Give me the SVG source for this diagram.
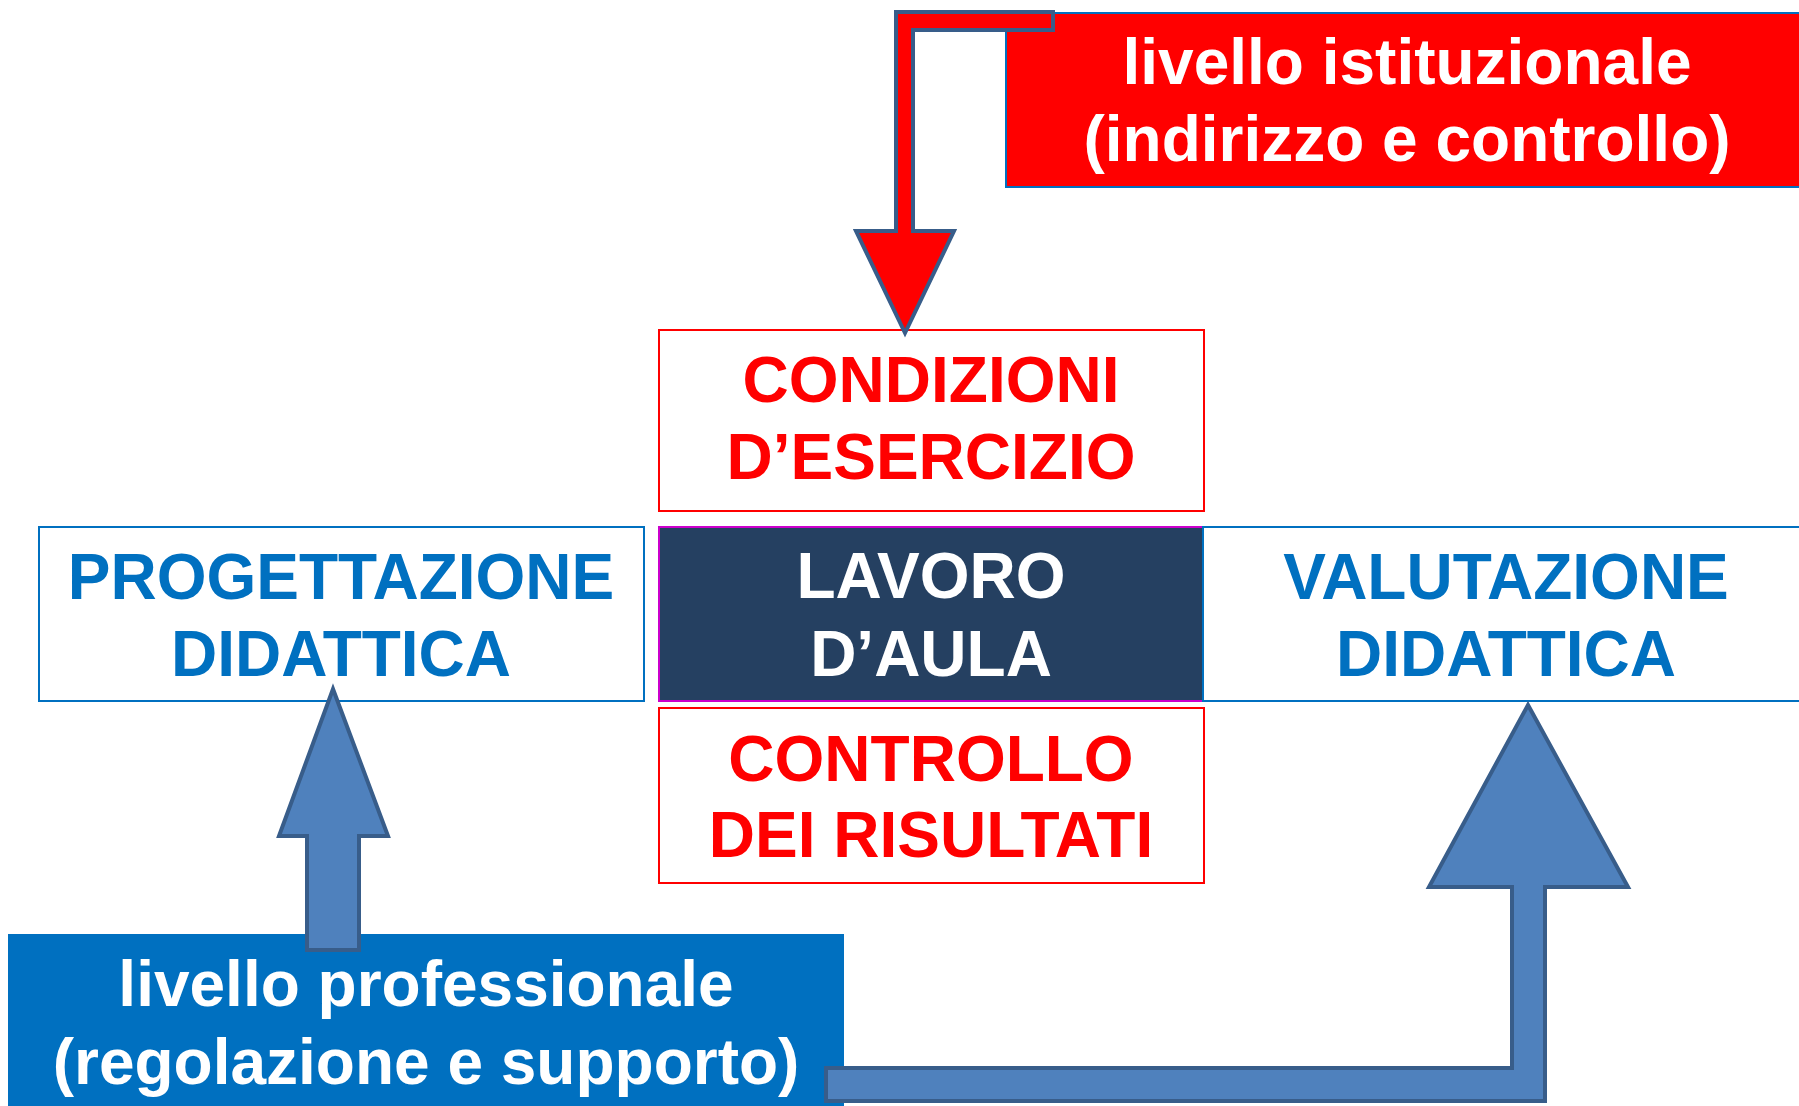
<svg xmlns="http://www.w3.org/2000/svg" width="1799" height="1106" viewBox="0 0 1799 1106">
<style>
text{font-family:"Liberation Sans",Arial,sans-serif;font-weight:bold;font-size:64px;text-anchor:middle}
.wt{fill:#FFFFFF}
.rt{fill:#FF0000}
.bt{fill:#0070C0}
.arrow{stroke:#385D8A;stroke-width:4;stroke-linejoin:miter}
.blue{fill:#4F81BD}
</style>
<rect width="1799" height="1106" fill="#FFFFFF"/>
<g id="istituzionale">
<rect x="1006" y="13" width="810" height="174" fill="#FF0000" stroke="#0070C0" stroke-width="2"/>
<text class="wt" x="1407" y="84">livello istituzionale</text>
<text class="wt" x="1407" y="161">(indirizzo e controllo)</text>
</g>
<g id="condizioni">
<rect x="659" y="330" width="545" height="181" fill="#FFFFFF" stroke="#FF0000" stroke-width="2"/>
<text class="rt" x="931" y="402">CONDIZIONI</text>
<text class="rt" x="931" y="479">D’ESERCIZIO</text>
</g>
<g id="progettazione">
<rect x="39" y="527" width="605" height="174" fill="#FFFFFF" stroke="#0070C0" stroke-width="2"/>
<text class="bt" x="341" y="599">PROGETTAZIONE</text>
<text class="bt" x="341" y="676">DIDATTICA</text>
</g>
<g id="lavoro">
<rect x="659" y="527" width="544" height="174" fill="#254061" stroke="#CC00CC" stroke-width="2"/>
<text class="wt" x="931" y="598">LAVORO</text>
<text class="wt" x="931" y="676">D’AULA</text>
</g>
<g id="valutazione">
<rect x="1203" y="527" width="620" height="174" fill="#FFFFFF" stroke="#0070C0" stroke-width="2"/>
<text class="bt" x="1506" y="599">VALUTAZIONE</text>
<text class="bt" x="1506" y="676">DIDATTICA</text>
</g>
<g id="controllo">
<rect x="659" y="708" width="545" height="175" fill="#FFFFFF" stroke="#FF0000" stroke-width="2"/>
<text class="rt" x="931" y="781">CONTROLLO</text>
<text class="rt" x="931" y="857">DEI RISULTATI</text>
</g>
<g id="professionale">
<rect x="8" y="934" width="836" height="190" fill="#0070C0"/>
<text class="wt" x="426" y="1006">livello professionale</text>
<text class="wt" x="426" y="1084">(regolazione e supporto)</text>
</g>
<g id="connectors">
<path class="arrow" fill="#FF0000" d="M1053,12 L896,12 L896,231 L856,231 L905,333 L954,231 L913,231 L913,30 L1053,30 Z"/>
<path class="arrow blue" d="M333,689 L388,836 L359,836 L359,950 L307,950 L307,836 L279,836 Z"/>
<path class="arrow blue" d="M1528,705 L1628,887 L1545,887 L1545,1101 L826,1101 L826,1068 L1512,1068 L1512,887 L1429,887 Z"/>
</g>
</svg>
